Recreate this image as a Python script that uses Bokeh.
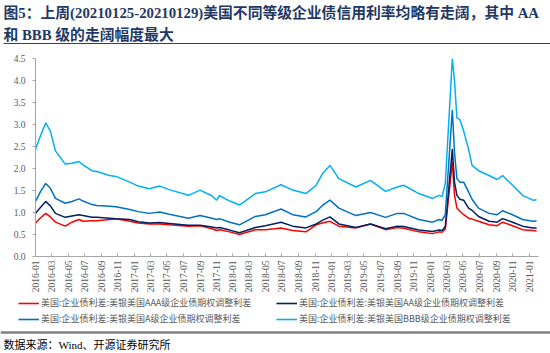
from datetime import datetime
import pandas as pd
from bokeh.plotting import figure
from bokeh.layouts import column
from bokeh.models import (Range1d, MonthsTicker, DatetimeTickFormatter, FixedTicker,
                          NumeralTickFormatter, Legend, LegendItem)
from bokeh.core.properties import value
from bokeh.embed import file_html
from bokeh.resources import INLINE

# ---------------- data ----------------
dates = ["2016-01-01", "2016-01-20", "2016-02-08", "2016-02-25", "2016-03-15", "2016-04-20",
         "2016-05-15", "2016-06-10", "2016-06-25", "2016-07-28", "2016-08-15", "2016-10-01",
         "2016-10-25", "2016-12-15", "2017-01-15", "2017-02-25", "2017-04-05", "2017-05-10",
         "2017-07-20", "2017-09-01", "2017-10-15", "2017-11-01", "2017-11-12", "2017-12-20",
         "2018-01-25", "2018-03-25", "2018-05-01", "2018-06-28", "2018-08-10", "2018-09-28",
         "2018-11-05", "2018-11-28", "2018-12-26", "2019-01-28", "2019-04-01", "2019-05-25",
         "2019-07-20", "2019-09-01", "2019-09-25", "2019-11-20", "2020-01-10", "2020-02-03",
         "2020-02-14", "2020-02-26", "2020-03-23", "2020-03-31", "2020-04-09", "2020-04-20",
         "2020-05-04", "2020-05-22", "2020-06-04", "2020-06-28", "2020-08-06", "2020-09-05",
         "2020-09-25", "2020-11-01", "2020-12-08", "2021-01-15", "2021-01-29"]

aaa = [0.76, 0.88, 0.98, 0.90, 0.78, 0.69, 0.78, 0.84, 0.80, 0.81, 0.81, 0.84,
       0.86, 0.80, 0.76, 0.74, 0.74, 0.72, 0.69, 0.70, 0.63, 0.59, 0.61, 0.56,
       0.50, 0.61, 0.61, 0.65, 0.59, 0.56, 0.72, 0.76, 0.80, 0.69, 0.65, 0.74,
       0.61, 0.66, 0.64, 0.56, 0.52, 0.56, 0.55, 0.62, 2.15, 1.40, 1.10, 1.03,
       0.95, 0.87, 0.85, 0.80, 0.72, 0.70, 0.78, 0.70, 0.61, 0.59, 0.58]

aa = [0.98, 1.12, 1.25, 1.15, 0.98, 0.89, 0.92, 0.95, 0.93, 0.89, 0.89, 0.87,
      0.86, 0.84, 0.79, 0.76, 0.77, 0.75, 0.71, 0.71, 0.67, 0.65, 0.66, 0.60,
      0.54, 0.66, 0.70, 0.78, 0.69, 0.65, 0.74, 0.82, 0.90, 0.74, 0.66, 0.74,
      0.63, 0.69, 0.68, 0.60, 0.57, 0.60, 0.59, 0.68, 2.44, 1.69, 1.39, 1.30,
      1.28, 1.10, 1.05, 0.91, 0.80, 0.78, 0.86, 0.78, 0.69, 0.65, 0.65]

a_ = [1.25, 1.48, 1.66, 1.55, 1.32, 1.21, 1.25, 1.31, 1.26, 1.18, 1.16, 1.14,
      1.13, 1.07, 1.02, 0.98, 1.01, 0.96, 0.87, 0.93, 0.87, 0.84, 0.86, 0.78,
      0.72, 0.91, 0.95, 1.08, 0.95, 0.90, 1.02, 1.16, 1.28, 1.10, 0.93, 1.00,
      0.89, 0.98, 0.98, 0.84, 0.78, 0.84, 0.82, 0.95, 3.33, 2.37, 1.77, 1.69,
      1.69, 1.47, 1.30, 1.10, 0.98, 0.95, 1.04, 0.95, 0.84, 0.80, 0.81]

bbb = [2.44, 2.75, 3.04, 2.85, 2.40, 2.10, 2.12, 2.16, 2.08, 1.95, 1.93, 1.84,
       1.82, 1.69, 1.60, 1.54, 1.60, 1.52, 1.39, 1.51, 1.38, 1.28, 1.38, 1.26,
       1.17, 1.43, 1.47, 1.63, 1.51, 1.43, 1.62, 1.88, 2.07, 1.77, 1.58, 1.73,
       1.48, 1.58, 1.62, 1.43, 1.32, 1.39, 1.36, 1.66, 4.50, 4.00, 3.15, 3.11,
       2.85, 2.44, 2.07, 1.95, 1.84, 1.75, 1.84, 1.62, 1.39, 1.28, 1.29]

series_names = ["美国:企业债利差:美银美国AAA级企业债期权调整利差",
                "美国:企业债利差:美银美国AA级企业债期权调整利差",
                "美国:企业债利差:美银美国A级企业债期权调整利差",
                "美国:企业债利差:美银美国BBB级企业债期权调整利差"]
series_colors = ["#ff0000", "#002060", "#0070c0", "#00b0f0"]
legend_order = [0, 2, 1, 3]   # column-major fill -> rows: AAA | AA ; A | BBB
y_ticks = [0.0, 0.5, 1.0, 1.5, 2.0, 2.5, 3.0, 3.5, 4.0, 4.5]

title_lines = ["图5：上周(20210125-20210129)美国不同等级企业债信用利率均略有走阔，其中 AA",
               "和 BBB 级的走阔幅度最大"]
source_text = "数据来源：Wind、开源证券研究所"

W = 550
TOP_H, MAIN_H, LEG_H, BOT_H = 47, 248, 32, 26

x = pd.to_datetime(dates)
all_series = [aaa, aa, a_, bbb]


def strip(h):
    f = figure(width=W, height=h, x_range=Range1d(0, W), y_range=Range1d(h, 0),
               x_axis_type=None, y_axis_type=None, min_border=0, outline_line_color=None,
               toolbar_location=None, output_backend="svg", frame_align=False)
    return f


# ---------------- title strip ----------------
top = strip(TOP_H)
top.text(x=[3, 3], y=[12, 34], text=title_lines, text_baseline="middle",
         text_font=value("Liberation Serif, Noto Sans CJK SC"), text_font_size="14.8px",
         text_font_style="bold", text_color="#1f3864")
top.segment(x0=[3], y0=[43], x1=[W], y1=[43], line_color="#404040", line_width=1)

# ---------------- main chart ----------------
p = figure(width=W, height=MAIN_H, x_axis_type="datetime",
           x_range=Range1d(datetime(2016, 1, 1), datetime(2021, 2, 5)),
           y_range=Range1d(0, 4.5), output_backend="svg", toolbar_location=None,
           min_border_left=35, min_border_right=12, min_border_top=11, min_border_bottom=36,
           outline_line_color=None, frame_align=False)
p.xgrid.visible = False
p.ygrid.visible = False

for vals, col in zip(all_series, series_colors):
    p.line(x, vals, line_color=col, line_width=1.5)

xa = p.xaxis[0]
xa.ticker = MonthsTicker(months=[0, 2, 4, 6, 8, 10])
xa.formatter = DatetimeTickFormatter(years="%Y-%m", months="%Y-%m", days="%Y-%m")
xa.major_label_orientation = 3.14159265 / 2
xa.major_label_text_font = "Liberation Serif"
xa.major_label_text_font_size = "9.5px"
xa.major_label_text_color = "#595959"
xa.major_label_standoff = 4
xa.axis_line_color = "#a6a6a6"
xa.major_tick_line_color = "#a6a6a6"
xa.major_tick_in = 3
xa.major_tick_out = 0
xa.minor_tick_line_color = None

ya = p.yaxis[0]
ya.ticker = FixedTicker(ticks=y_ticks)
ya.formatter = NumeralTickFormatter(format="0.0")
ya.major_label_text_font = "Liberation Serif"
ya.major_label_text_font_size = "9.5px"
ya.major_label_text_color = "#595959"
ya.major_label_standoff = 7
ya.axis_line_color = "#a6a6a6"
ya.major_tick_line_color = "#a6a6a6"
ya.major_tick_in = 0
ya.major_tick_out = 3
ya.minor_tick_line_color = None

# ---------------- legend strip ----------------
leg = strip(LEG_H)
leg_renderers = []
for vals, col in zip(all_series, series_colors):
    r = leg.line(x, vals, line_color=col, line_width=1.6, visible=False)
    leg_renderers.append(r)

legend = Legend(items=[LegendItem(label=series_names[i], renderers=[leg_renderers[i]])
                       for i in legend_order],
                ncols=2, location=(18, 2), margin=0, padding=0, spacing=3,
                glyph_width=21, glyph_height=12, label_height=12, label_width=232,
                label_standoff=2, label_text_font="Noto Sans CJK SC",
                label_text_font_size="9px", label_text_color="#595959",
                background_fill_alpha=0, border_line_color=None)
leg.add_layout(legend, "center")

# ---------------- source strip ----------------
bot = strip(BOT_H)
bot.segment(x0=[0], y0=[5], x1=[W], y1=[5], line_color="#808080", line_width=2.5)
bot.text(x=[3], y=[17], text=[source_text], text_baseline="middle",
         text_font=value("Liberation Serif, Noto Sans CJK SC"), text_font_size="11px",
         text_color="#000000")

layout = column(top, p, leg, bot, spacing=0)
open("out.html", "w").write(file_html(layout, INLINE))
